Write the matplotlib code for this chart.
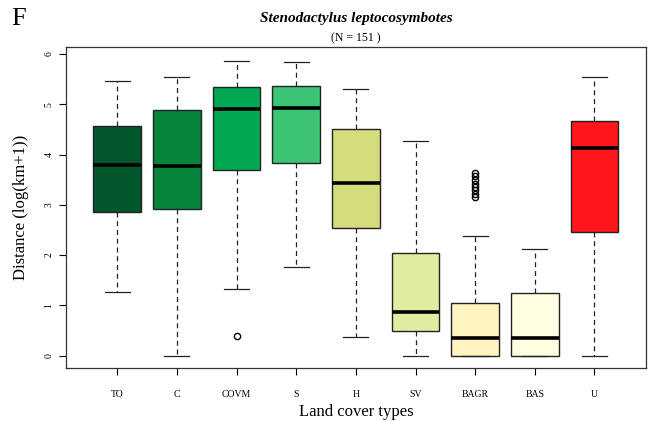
import matplotlib
matplotlib.use("Agg")
import matplotlib.pyplot as plt

# land cover classes and box statistics
categories = ["TO", "C", "COVM", "S", "H", "SV", "BAGR", "BAS", "U"]
whislo = [1.27, 0.00, 1.32, 1.77, 0.37, 0.00, 0.00, 0.00, 0.00]
q1 = [2.86, 2.91, 3.69, 3.83, 2.54, 0.49, 0.00, 0.00, 2.45]
med = [3.79, 3.77, 4.90, 4.92, 3.44, 0.86, 0.36, 0.36, 4.13]
q3 = [4.57, 4.88, 5.34, 5.36, 4.50, 2.05, 1.04, 1.25, 4.66]
whishi = [5.46, 5.54, 5.87, 5.84, 5.30, 4.26, 2.38, 2.12, 5.55]
outliers = [[], [], [0.39], [], [], [],
            [3.15, 3.22, 3.30, 3.36, 3.42, 3.50, 3.57, 3.64], [], []]
colors = ["#01572B", "#06853C", "#00A854", "#3CC473", "#D5DC7B",
          "#E0EDA0", "#FFF3C0", "#FFFEE0", "#FF161B"]

plt.rcParams['font.family'] = ['Liberation Serif', 'DejaVu Serif']

fig = plt.figure(figsize=(6.5, 4.21), dpi=100)
ax = fig.add_axes([0.1015, 0.127, 0.892, 0.761])

stats = []
for i, name in enumerate(categories):
    stats.append(dict(label=name, whislo=whislo[i], q1=q1[i], med=med[i],
                      q3=q3[i], whishi=whishi[i], fliers=outliers[i]))

bp = ax.bxp(stats, positions=range(1, 10), widths=0.8, patch_artist=True,
            showfliers=True,
            boxprops=dict(edgecolor="#222222", linewidth=1.0),
            medianprops=dict(color="black", linewidth=2.6, solid_capstyle="butt"),
            whiskerprops=dict(color="#222222", linewidth=0.9, linestyle=(0, (4, 3))),
            capprops=dict(color="#222222", linewidth=0.9),
            capwidths=0.42,
            flierprops=dict(marker="o", markersize=4.5, markerfacecolor="none",
                            markeredgecolor="black", markeredgewidth=1.0))
for patch, c in zip(bp["boxes"], colors):
    patch.set_facecolor(c)

ax.set_xlim(0.14, 9.86)
ax.set_ylim(-0.236, 6.136)
ax.set_yticks(range(0, 7))
ax.set_yticklabels([str(v) for v in range(0, 7)], rotation=90, va="center")
ax.tick_params(axis="y", labelsize=7, length=5, width=0.8, pad=4)
ax.tick_params(axis="x", labelsize=7, length=5, width=0.8, pad=11)
for sp in ax.spines.values():
    sp.set_color("#333333")
    sp.set_linewidth(0.9)

ax.set_xlabel("Land cover types", fontsize=12, labelpad=4)
ax.set_ylabel("Distance (log(km+1))", fontsize=12, labelpad=11)

fig.text(0.548, 0.956, "Stenodactylus leptocosymbotes", ha="center", va="center",
         fontsize=11, fontweight="bold", fontstyle="italic")
fig.text(0.548, 0.91, "(N = 151 )", ha="center", va="center", fontsize=8.5)
fig.text(0.018, 0.955, "F", ha="left", va="center", fontsize=19)

fig.savefig("out.png", dpi=100)
